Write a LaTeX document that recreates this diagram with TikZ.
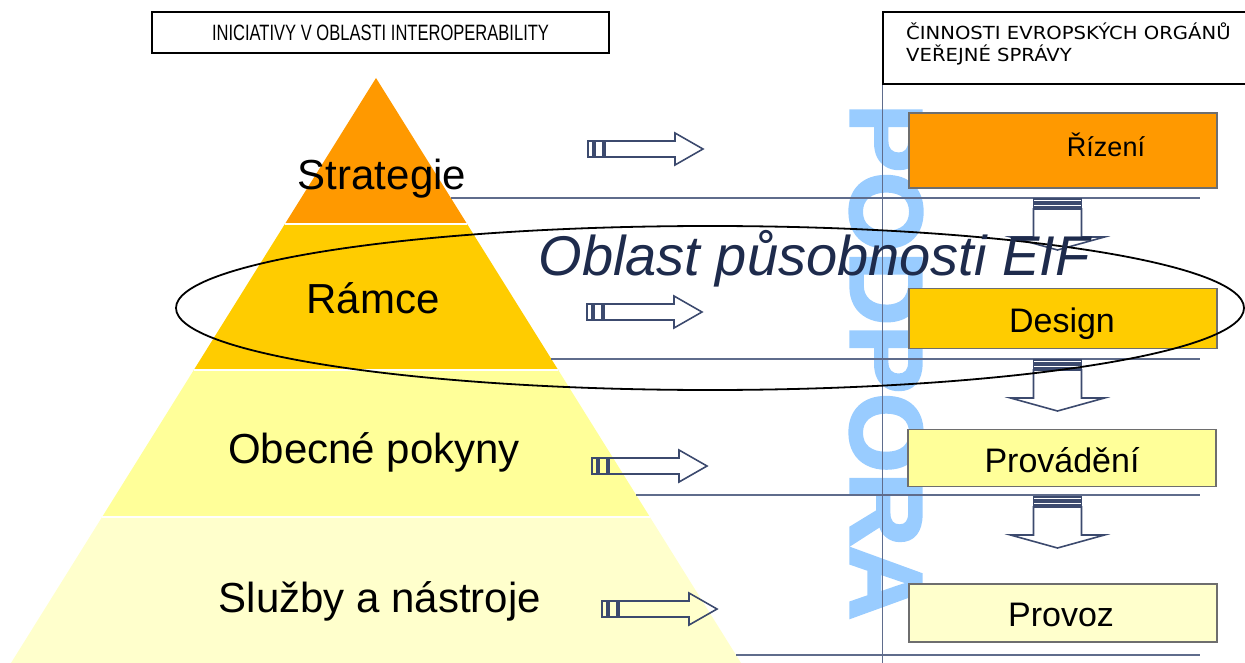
\documentclass[tikz,border=0pt]{standalone}
\usepackage{fontspec}
\usepackage{graphicx}
\setmainfont{Liberation Sans}[BoldFont={Liberation Sans Bold}, ItalicFont={Liberation Sans Italic}]
\newfontfamily\hdrfont{DejaVu Sans}
\newfontfamily\wmfont{Liberation Sans Bold}[FakeBold=3]
\usetikzlibrary{calc}

\definecolor{lvlA}{HTML}{FF9900}
\definecolor{lvlB}{HTML}{FFCC00}
\definecolor{lvlC}{HTML}{FFFF99}
\definecolor{lvlD}{HTML}{FFFFCC}
\definecolor{arrowcol}{HTML}{3C4A6E}
\definecolor{rulecol}{HTML}{5F6C8C}
\definecolor{wmark}{HTML}{99CCFF}
\definecolor{scopetext}{HTML}{1E2B4C}
\definecolor{boxedge}{HTML}{6E6E6E}

\tikzset{
  level/.style={font=\fontsize{42}{48}\selectfont, anchor=base, inner sep=0pt},
  actbox/.style={draw=boxedge, line width=1.3pt, minimum width=308pt, inner sep=0pt},
  actlabel/.style={font=\fontsize{34}{40}\selectfont, anchor=base, inner sep=0pt},
  arrowline/.style={draw=arrowcol, line width=1.6pt, line join=miter},
  guide/.style={draw=rulecol, line width=1.3pt},
  rarrow/.pic={
    \draw[arrowline] (0,-8) rectangle (5,8);
    \draw[arrowline] (7,-8) rectangle (15,8);
    \draw[arrowline] (17,-8) -- (87,-8) -- (87,-16) -- (115,0) -- (87,16) -- (87,8) -- (17,8) -- cycle;
  },
  darrow/.pic={
    \draw[arrowline] (-24,0) rectangle (24,3);
    \draw[arrowline] (-24,5) rectangle (24,8);
    \draw[arrowline] (-24,10) -- (-24,38) -- (-47,38) -- (0,51) -- (47,38) -- (24,38) -- (24,10) -- cycle;
  }
}

\begin{document}
\begin{tikzpicture}[x=1pt, y=-1pt]
\useasboundingbox (0,0) rectangle (1245,663);

% pyramid bands
\fill[lvlA] (376,78) -- (467.1,224) -- (284.9,224) -- cycle;
\fill[lvlB] (284.9,224) -- (467.1,224) -- (558.2,370) -- (193.8,370) -- cycle;
\fill[lvlC] (193.8,370) -- (558.2,370) -- (649.9,517) -- (102.1,517) -- cycle;
\fill[lvlD] (102.1,517) -- (649.9,517) -- (741,663) -- (11,663) -- cycle;
\draw[white, line width=1.2pt] (284.9,224) -- (467.1,224);
\draw[white, line width=1.2pt] (193.8,370) -- (558.2,370);
\draw[white, line width=1.2pt] (102.1,517) -- (649.9,517);

% watermark
\node[text=wmark, rotate=-90, inner sep=0pt, font=\wmfont\fontsize{102}{110}\selectfont] (wm) at (886,362) {PODPORA};

% guide rules
\draw[guide] (451,198) -- (1200,198);
\draw[guide] (551,359) -- (1200,359);
\draw[guide] (636,495) -- (1200,495);
\draw[guide] (736,655) -- (1200,655);
\draw[draw=rulecol, line width=1pt] (882,84) -- (882,663);

% headers
\node[draw=black, line width=2.5pt, minimum width=457pt, minimum height=41pt, inner sep=0pt] (hleft) at (380.5,32.5)
  {\resizebox{337pt}{15.5pt}{INICIATIVY V OBLASTI INTEROPERABILITY}};
\draw[black, line width=2.2pt] (1250,12) -- (883,12) -- (883,84) -- (1250,84);
\node[anchor=north west, inner sep=0pt, align=left, font=\hdrfont\fontsize{18}{22}\selectfont] (hright) at (906,23)
  {\scalebox{1.09}[1]{ČINNOSTI EVROPSKÝCH ORGÁNŮ}\\\scalebox{1.09}[1]{VEŘEJNÉ SPRÁVY}};

% pyramid labels
\node[level] (strat) at (382,190) {Strategie};
\node[level] (ramce) at (373,313) {Rámce};
\node[level] (pokyny) at (374,463) {Obecné pokyny};
\node[level] (sluzby) at (380,612) {Služby a nástroje};

% activity boxes
\node[actbox, fill=lvlA, minimum height=75pt] (rizeni) at (1063,150.5) {};
\node[actbox, fill=lvlB, minimum height=60pt] (design) at (1063,318.5) {};
\node[actbox, fill=lvlC, minimum height=57pt] (provadeni) at (1062,458) {};
\node[actbox, fill=lvlD, minimum height=58pt] (provoz) at (1063,613) {};
\node[actlabel, font=\fontsize{27}{32}\selectfont] (trizeni) at (1106,157) {Řízení};
\node[actlabel] (tdesign) at (1062,332) {Design};
\node[actlabel] (tprovadeni) at (1062,472) {Provádění};
\node[actlabel] (tprovoz) at (1061,626) {Provoz};

% block arrows
\pic at (588,149) {rarrow};
\pic at (587,312) {rarrow};
\pic at (592,466) {rarrow};
\pic at (602,609) {rarrow};
\pic at (1057.5,199) {darrow};
\pic at (1057.5,360) {darrow};
\pic at (1057.5,497) {darrow};

% scope of the framework
\draw[black, line width=1.8pt] (710,308) ellipse [x radius=534pt, y radius=82pt];
\node[anchor=base, inner sep=0pt, text=scopetext, font=\itshape\fontsize{56}{60}\selectfont] (eif) at (814,275) {Oblast působnosti EIF};
\end{tikzpicture}
\end{document}
